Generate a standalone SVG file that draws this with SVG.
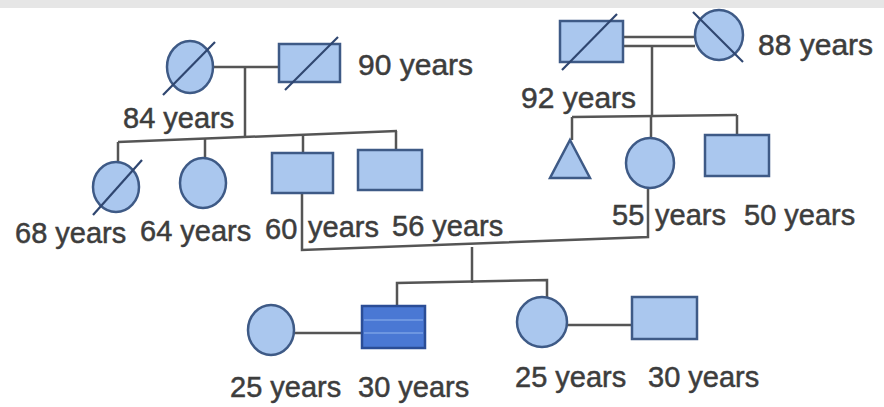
<svg xmlns="http://www.w3.org/2000/svg" width="884" height="407" viewBox="0 0 884 407">
<style>
.n{fill:#aac7ee;stroke:#3e5a86;stroke-width:2.5}
.d{fill:#4a78d4;stroke:#2b4d96;stroke-width:2.5}
.s{stroke:#2f4670;stroke-width:2.2;fill:none}
.c{stroke:#555;stroke-width:2.5;fill:none}
text{font-family:"Liberation Sans",Arial,sans-serif;font-size:29px;fill:#3d3d3d;stroke:#3d3d3d;stroke-width:0.5}
.t{font-size:30px}
</style>
<rect x="0" y="0" width="884" height="407" fill="#ffffff"/>
<rect x="0" y="0" width="884" height="8" fill="#e6e6e6"/>
<g id="connectors">
<line class="c" x1="213" y1="67" x2="279" y2="67"/>
<line class="c" x1="245" y1="67" x2="245" y2="136"/>
<line class="c" x1="118" y1="142" x2="397" y2="131"/>
<line class="c" x1="118" y1="142" x2="118" y2="162"/>
<line class="c" x1="205" y1="139" x2="205" y2="158"/>
<line class="c" x1="303" y1="135" x2="303" y2="153"/>
<line class="c" x1="396" y1="131" x2="396" y2="150"/>
<line class="c" x1="623" y1="37" x2="695" y2="37"/>
<line class="c" x1="623" y1="46" x2="695" y2="46"/>
<line class="c" x1="652" y1="46" x2="652" y2="117"/>
<line class="c" x1="572" y1="117" x2="737" y2="115"/>
<line class="c" x1="572" y1="117" x2="572" y2="140"/>
<line class="c" x1="651" y1="117" x2="651" y2="138"/>
<line class="c" x1="737" y1="115" x2="737" y2="135"/>
<polyline class="c" points="302,193 302,250 648,237 648,188"/>
<line class="c" x1="472" y1="247" x2="472" y2="283"/>
<polyline class="c" points="397,307 397,283 547,280 547,297"/>
<line class="c" x1="294" y1="333" x2="362" y2="333"/>
<line class="c" x1="567" y1="325" x2="632" y2="325"/>
</g>
<g id="gm-left">
<ellipse class="n" cx="190" cy="67" rx="23" ry="26"/>
<line class="s" x1="163" y1="95" x2="215" y2="42"/>
<text x="123" y="128">84 years</text>
</g>
<g id="gf-left">
<rect class="n" x="279" y="44" width="61" height="38"/>
<line class="s" x1="285" y1="90" x2="338" y2="37"/>
<text class="t" x="358" y="75">90 years</text>
</g>
<g id="gf-right">
<rect class="n" x="560" y="21" width="63" height="41"/>
<line class="s" x1="562" y1="70" x2="617" y2="14"/>
<text class="t" x="521" y="108">92 years</text>
</g>
<g id="gm-right">
<ellipse class="n" cx="719" cy="35" rx="24" ry="25"/>
<line class="s" x1="693" y1="12" x2="743" y2="62"/>
<text class="t" x="758" y="55">88 years</text>
</g>
<g id="c68">
<ellipse class="n" cx="116" cy="187" rx="23" ry="25"/>
<line class="s" x1="93" y1="215" x2="142" y2="160"/>
<text x="15" y="243">68 years</text>
</g>
<g id="c64">
<ellipse class="n" cx="203" cy="183" rx="23" ry="25"/>
<text x="140" y="241">64 years</text>
</g>
<g id="c60">
<rect class="n" x="272" y="153" width="61" height="40"/>
<text x="265" y="239">60</text>
<text x="308" y="237">years</text>
</g>
<g id="c56">
<rect class="n" x="358" y="150" width="64" height="40"/>
<text x="392" y="236">56 years</text>
</g>
<g id="c-tri">
<polygon class="n" points="570,140 590,178 550,178"/>
</g>
<g id="c55">
<ellipse class="n" cx="650" cy="163" rx="24" ry="25"/>
<text x="612" y="225">55</text>
<text x="655" y="225">years</text>
</g>
<g id="c50">
<rect class="n" x="705" y="135" width="64" height="41"/>
<text x="744" y="225">50 years</text>
</g>
<g id="g1-wife">
<ellipse class="n" cx="271" cy="330" rx="23" ry="25"/>
<text x="230" y="397">25 years</text>
</g>
<g id="g1-son">
<rect class="d" x="362" y="306" width="63" height="42"/>
<line x1="364" y1="320" x2="423" y2="320" stroke="#7aa0e6" stroke-width="1.5"/>
<line x1="364" y1="333" x2="423" y2="333" stroke="#7aa0e6" stroke-width="1.5"/>
<text x="358" y="397">30 years</text>
</g>
<g id="g1-daughter">
<ellipse class="n" cx="542" cy="322" rx="25" ry="25"/>
<text x="515" y="387">25 years</text>
</g>
<g id="g1-husband">
<rect class="n" x="632" y="297" width="65" height="42"/>
<text x="648" y="387">30 years</text>
</g>
</svg>
